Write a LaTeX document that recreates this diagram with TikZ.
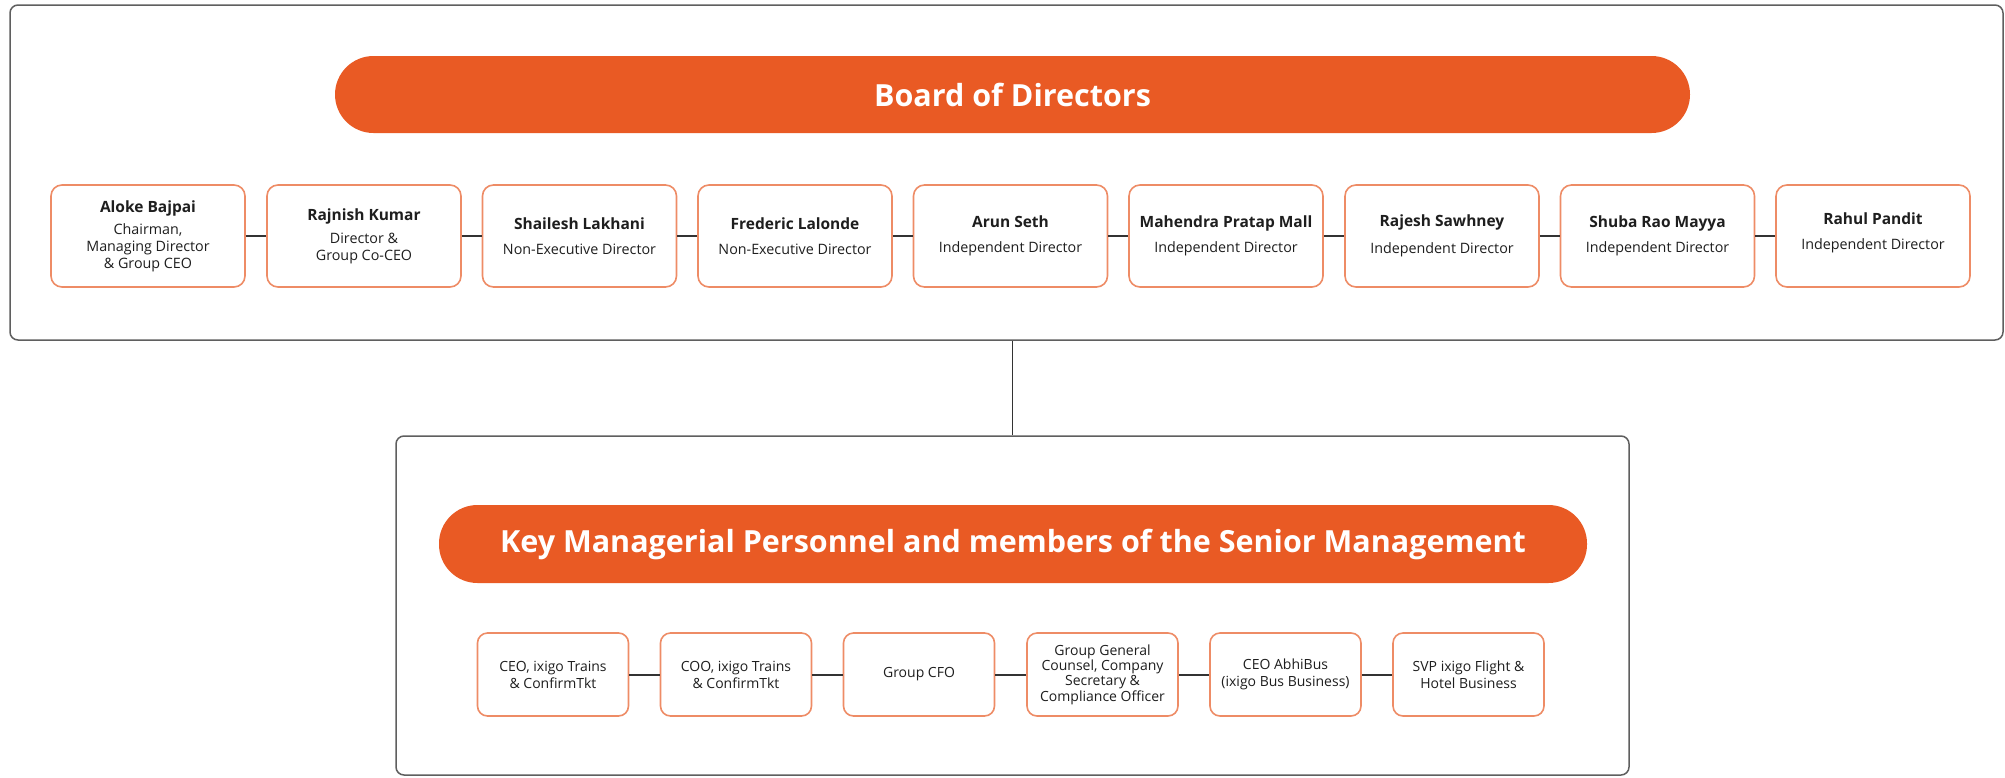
\documentclass[tikz,border=0pt]{standalone}
\usepackage{fontspec}
\setmainfont{Open Sans}
\definecolor{brand}{HTML}{E95A24}
\definecolor{nodeline}{HTML}{EE8C66}
\definecolor{frameline}{HTML}{5F5F5F}
\definecolor{linkc}{HTML}{333333}
\definecolor{txt}{HTML}{1E1E1E}
\newcommand{\namef}{\fontsize{15.5}{18}\selectfont\bfseries}
\tikzset{
  frame/.style={draw=frameline, line width=1.5pt, rounded corners=8pt, inner sep=0pt},
  pill/.style={fill=brand, rounded corners=38.5pt, text=white, inner sep=0pt,
    font=\fontsize{30.5}{36}\selectfont\bfseries},
  dirtext/.style={align=center, inner sep=0pt, text=txt, font=\fontsize{14.3}{17}\selectfont},
  dirbox/.style={dirtext, draw=nodeline, line width=1.6pt, rounded corners=11pt, fill=white,
    minimum width=194pt, minimum height=102pt},
  kmpbox/.style={draw=nodeline, line width=1.6pt, rounded corners=10pt, fill=white,
    minimum width=151pt, minimum height=83pt, align=center, inner sep=0pt, text=txt,
    font=\fontsize{14}{17}\selectfont},
  link/.style={draw=linkc, line width=2pt},
  vlink/.style={draw=linkc, line width=1.5pt},
}
\begin{document}
\begin{tikzpicture}[x=1pt,y=-1pt]
\useasboundingbox (0,0) rectangle (2005,777);
\fill[white] (0,0) rectangle (2005,777);
% frames
\node[frame, minimum width=1993pt, minimum height=335pt] (topframe) at (1006.5,172.5) {};
\node[frame, minimum width=1233pt, minimum height=339pt] (botframe) at (1012.5,605.5) {};
% headers
\node[pill, minimum width=1355pt, minimum height=77pt] (board) at (1012.5,94.5) {Board of Directors};
\node[pill, minimum width=1148pt, minimum height=78pt] (kmp) at (1013,544) {Key Managerial Personnel and members of the Senior Management};
% directors
\node[dirbox] (d1) at (148,236) {{\namef Aloke Bajpai}\\[5pt]Chairman,\\Managing Director\\\& Group CEO};
\node[dirbox] (d2) at (364,236) {{\namef Rajnish Kumar}\\[6pt]Director \&\\Group Co-CEO};
\node[dirbox] (d3) at (579.5,236) {{\namef Shailesh Lakhani}\\[8pt]Non-Executive Director};
\node[dirbox] (d4) at (795,236) {{\namef Frederic Lalonde}\\[8pt]Non-Executive Director};
\node[dirbox] (d5) at (1010.5,236) {{\namef Arun Seth}\\[8pt]Independent Director};
\node[dirbox] (d6) at (1226,236) {{\namef Mahendra Pratap Mall}\\[8pt]Independent Director};
\node[dirbox] (d7) at (1442,236) {{\namef Rajesh Sawhney}\\[10pt]Independent Director};
\node[dirbox] (d8) at (1657.5,236) {{\namef Shuba Rao Mayya}\\[8pt]Independent Director};
\node[dirbox] (d9) at (1873,236) {};
\node[dirtext] (d9t) at (1873,232.5) {{\namef Rahul Pandit}\\[8pt]Independent Director};
\foreach \a/\b in {d1/d2,d2/d3,d3/d4,d4/d5,d5/d6,d6/d7,d7/d8,d8/d9}
  \draw[link] (\a) -- (\b);
% senior management
\node[kmpbox] (k1) at (553,674.5) {CEO, ixigo Trains\\\& ConfirmTkt};
\node[kmpbox] (k2) at (736,674.5) {COO, ixigo Trains\\\& ConfirmTkt};
\node[kmpbox] (k3) at (919,674.5) {Group CFO};
\node[kmpbox, font=\fontsize{14}{15.4}\selectfont] (k4) at (1102.5,674.5) {Group General\\Counsel, Company\\Secretary \&\\Compliance Officer};
\node[kmpbox] (k5) at (1285.5,674.5) {CEO AbhiBus\\(ixigo Bus Business)};
\node[kmpbox] (k6) at (1468.5,674.5) {SVP ixigo Flight \&\\Hotel Business};
\foreach \a/\b in {k1/k2,k2/k3,k3/k4,k4/k5,k5/k6}
  \draw[link] (\a) -- (\b);
% board to management
\draw[vlink] (botframe.north) -- (botframe.north |- topframe.south);
\end{tikzpicture}
\end{document}
